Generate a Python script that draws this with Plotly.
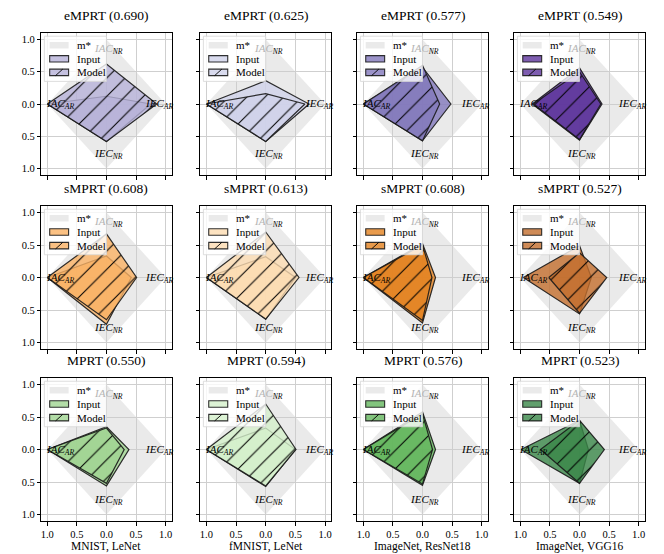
import plotly.graph_objects as go

# ---------------- data ----------------
metrics = ["eMPRT", "sMPRT", "MPRT"]
datasets = ["MNIST, LeNet", "fMNIST, LeNet", "ImageNet, ResNet18", "ImageNet, VGG16"]

emprt_scores = [0.690, 0.625, 0.577, 0.549]
smprt_scores = [0.608, 0.613, 0.608, 0.527]
mprt_scores = [0.550, 0.594, 0.576, 0.523]

# value order: [IAC_AR (left), IAC_NR (top), IEC_AR (right), IEC_NR (bottom)]
m_star = [1.0, 1.0, 1.0, 1.0]

emprt_input = [[1.00, 0.12, 0.75, 0.58], [1.00, 0.36, 0.73, 0.58],
               [1.00, 0.57, 0.48, 0.57], [0.80, 0.56, 0.38, 0.56]]
emprt_model = [[1.00, 0.62, 0.85, 0.58], [1.00, 0.16, 0.66, 0.58],
               [1.00, 0.60, 0.29, 0.57], [0.78, 0.50, 0.36, 0.55]]
smprt_input = [[1.00, 0.33, 0.42, 0.72], [1.00, 0.32, 0.50, 0.64],
               [1.00, 0.52, 0.22, 0.70], [0.95, 0.49, 0.20, 0.56]]
smprt_model = [[1.00, 0.67, 0.51, 0.65], [1.00, 0.70, 0.56, 0.64],
               [1.00, 0.50, 0.16, 0.66], [0.52, 0.38, 0.46, 0.55]]
mprt_input = [[1.00, 0.35, 0.38, 0.56], [1.00, 0.33, 0.50, 0.57],
              [1.00, 0.58, 0.22, 0.55], [0.99, 0.45, 0.15, 0.52]]
mprt_model = [[1.00, 0.33, 0.30, 0.52], [1.00, 0.70, 0.51, 0.56],
              [1.00, 0.55, 0.17, 0.53], [0.66, 0.45, 0.42, 0.52]]

tick_vals = [-1.0, -0.5, 0.0, 0.5, 1.0]
tick_text = ["1.0", "0.5", "0.0", "0.5", "1.0"]

# ---------------- style ----------------
purples = [(182, 177, 216), (208, 210, 234), (130, 120, 187), (94, 52, 156)]
oranges = [(250, 178, 100), (253, 220, 178), (227, 130, 31), (195, 110, 45)]
greens = [(160, 213, 145), (213, 240, 203), (100, 182, 94), (58, 135, 73)]
ALPHA = 0.8

scores_rows = [emprt_scores, smprt_scores, mprt_scores]
input_rows = [emprt_input, smprt_input, mprt_input]
model_rows = [emprt_model, smprt_model, mprt_model]
color_rows = [purples, oranges, greens]

W, H = 664, 554
col_px = [(32.5, 163.0), (192.0, 323.0), (349.5, 480.0), (507.0, 637.5)]
row_px = [(25.0, 167.0), (198.0, 341.0), (370.0, 513.0)]

FONT = "Liberation Serif, DejaVu Serif, serif"
EDGE = "rgba(25,25,25,0.9)"
MSTAR = "rgba(205,205,205,0.42)"


def rgba(c, a):
    return f"rgba({c[0]},{c[1]},{c[2]},{a})"


def poly(v):
    a, b, c, d = v
    return [-a, 0, c, 0, -a], [0, b, 0, -d, 0]


fig = go.Figure()
layout = dict(width=W, height=H, margin=dict(l=0, r=0, t=0, b=0),
              paper_bgcolor="white", plot_bgcolor="white", showlegend=False,
              font=dict(family=FONT, color="black", size=11))
annotations = []
shapes = []

for r in range(3):
    for c in range(4):
        k = r * 4 + c
        sfx = "" if k == 0 else str(k + 1)
        xr, yr = "x" + sfx, "y" + sfx
        col = color_rows[r][c]
        fcol = rgba(col, ALPHA)

        mx, my = poly(m_star)
        fig.add_trace(go.Scatter(x=mx, y=my, xaxis=xr, yaxis=yr, mode="lines",
                                 fill="toself", fillcolor=MSTAR,
                                 line=dict(width=0), hoverinfo="skip"))
        ix, iy = poly(input_rows[r][c])
        fig.add_trace(go.Scatter(x=ix, y=iy, xaxis=xr, yaxis=yr, mode="lines",
                                 fill="toself", fillcolor=fcol,
                                 line=dict(color=EDGE, width=1.2), hoverinfo="skip"))
        ox, oy = poly(model_rows[r][c])
        fig.add_trace(go.Scatter(x=ox, y=oy, xaxis=xr, yaxis=yr, mode="lines",
                                 fill="toself", fillcolor=fcol,
                                 fillpattern=dict(shape="/", size=13, solidity=0.08,
                                                  fgcolor="black", fgopacity=1,
                                                  bgcolor=fcol),
                                 line=dict(color=EDGE, width=1.2), hoverinfo="skip"))

        x0, x1 = col_px[c]
        y0, y1 = row_px[r]
        common = dict(range=[-1.1, 1.1], tickvals=tick_vals, ticktext=tick_text,
                      ticks="outside", ticklen=3.5, tickwidth=0.8, tickcolor="black",
                      showline=True, mirror=True, linecolor="black", linewidth=1,
                      showgrid=True, gridcolor="#cfcfcf", gridwidth=1, zeroline=False,
                      tickfont=dict(family=FONT, size=10.5, color="black"))
        layout["xaxis" + sfx] = dict(domain=[x0 / W, x1 / W], anchor=yr,
                                     showticklabels=(r == 2), **common)
        layout["yaxis" + sfx] = dict(domain=[1 - y1 / H, 1 - y0 / H], anchor=xr,
                                     showticklabels=(c == 0), **common)

        # title
        annotations.append(dict(text=f"{metrics[r]} ({scores_rows[r][c]:.3f})",
                                xref="paper", yref="paper", x=(x0 + x1) / 2 / W,
                                y=1 - y0 / H, yanchor="bottom", xanchor="center",
                                yshift=8, showarrow=False,
                                font=dict(family=FONT, size=13.5, color="black")))
        if r == 2:
            annotations.append(dict(text=datasets[c], xref="paper", yref="paper",
                                    x=(x0 + x1) / 2 / W, y=1 - 530 / H,
                                    xanchor="center", yanchor="top",
                                    showarrow=False,
                                    font=dict(family=FONT, size=11.5, color="black")))

        # vertex labels
        lab_font = dict(family=FONT, size=11, color="black")
        annotations += [
            dict(text="<span style='color:#b4b4b4'><i>IAC</i></span><sub><i>NR</i></sub>",
                 xref=xr, yref=yr, x=0.04, y=0.85, showarrow=False, font=lab_font),
            dict(text="<i>IEC</i><sub><i>AR</i></sub>", xref=xr, yref=yr,
                 x=0.89, y=0.0, showarrow=False, font=lab_font),
            dict(text="<i>IAC</i><sub><i>AR</i></sub>", xref=xr, yref=yr,
                 x=-0.78, y=0.0, showarrow=False, font=lab_font),
            dict(text="<i>IEC</i><sub><i>NR</i></sub>", xref=xr, yref=yr,
                 x=0.04, y=-0.77, showarrow=False, font=lab_font),
        ]

        # legend box (drawn with shapes)
        shapes += [
            dict(type="rect", xref=xr, yref=yr, x0=-1.05, x1=0.0, y0=0.35, y1=1.05,
                 fillcolor="rgba(255,255,255,0.8)", line=dict(color="#d5d5d5", width=0.8),
                 layer="above"),
            dict(type="rect", xref=xr, yref=yr, x0=-0.96, x1=-0.64, y0=0.86, y1=0.96,
                 fillcolor=MSTAR, line=dict(width=0), layer="above"),
            dict(type="rect", xref=xr, yref=yr, x0=-0.96, x1=-0.64, y0=0.65, y1=0.75,
                 fillcolor=fcol, line=dict(color=EDGE, width=1.1), layer="above"),
            dict(type="rect", xref=xr, yref=yr, x0=-0.96, x1=-0.64, y0=0.44, y1=0.54,
                 fillcolor=fcol, line=dict(color=EDGE, width=1.1), layer="above"),
            dict(type="line", xref=xr, yref=yr, x0=-0.86, x1=-0.74, y0=0.44, y1=0.54,
                 line=dict(color="black", width=0.9), layer="above"),
        ]
        leg_font = dict(family=FONT, size=11, color="black")
        for txt, yy in (("m*", 0.91), ("Input", 0.70), ("Model", 0.49)):
            annotations.append(dict(text=txt, xref=xr, yref=yr, x=-0.53, y=yy,
                                    xanchor="left", yanchor="middle", showarrow=False,
                                    font=leg_font))

layout["annotations"] = annotations
layout["shapes"] = shapes
fig.update_layout(**layout)
fig.write_html("out.html")
